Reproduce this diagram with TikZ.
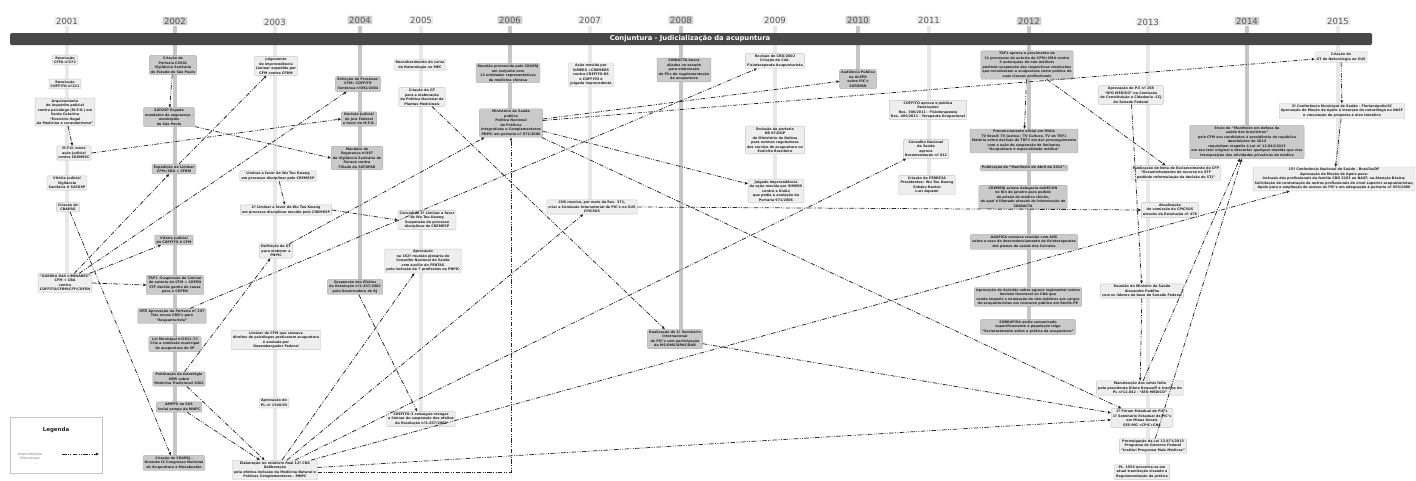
\documentclass[tikz,border=0pt]{standalone}
\usepackage{fontspec}
\setmainfont{DejaVu Sans}
\usetikzlibrary{arrows.meta}

\definecolor{boxlt}{HTML}{EEEEEE}
\definecolor{boxdk}{HTML}{CACACA}
\definecolor{edgelt}{HTML}{C4C4C4}
\definecolor{edgedk}{HTML}{A9A9A9}
\definecolor{barlt}{HTML}{E8E8E8}
\definecolor{bardk}{HTML}{C6C6C6}
\definecolor{yrlt}{HTML}{EDEDED}
\definecolor{yrdk}{HTML}{CFCFCF}
\definecolor{hdr}{HTML}{484848}
\definecolor{txt}{HTML}{262626}

\newcommand\evfont{\fontsize{3.35}{4.5}\selectfont\bfseries}
\newcommand\yrfont{\fontsize{8.5}{10}\selectfont}

\begin{document}
\begin{tikzpicture}[x=1pt,y=-1pt,>={Triangle[length=3pt,width=2.6pt]}]
\tikzset{
evlt/.style = {draw=edgelt, fill=boxlt, rounded corners=1pt,
               align=center, font=\evfont, text=txt,
               inner xsep=1.6pt, inner ysep=1.3pt, line width=0.4pt},
evdk/.style = {evlt, draw=edgedk, fill=boxdk},
yearlt/.style = {fill=yrlt, rounded corners=1pt, font=\yrfont, text=black!65,
                 inner xsep=1.5pt, inner ysep=1pt},
yeardk/.style = {yearlt, fill=yrdk},
ybarlt/.style = {draw=barlt, line width=4.5pt},
ybardk/.style = {draw=bardk, line width=4.5pt},
rel/.style = {->, draw=black!85, line width=0.75pt,
              dash pattern=on 4.5pt off 1.5pt on 0.8pt off 1.5pt on 0.8pt off 1.5pt}
}

\useasboundingbox (0,0) rectangle (1416,480);
\clip (0,0) rectangle (1416,480);
\fill[white] (0,0) rectangle (1416,480);

% time lines
\draw[ybarlt] (67,26) -- (67,275);
\draw[ybardk] (175,26) -- (175,458);
\draw[ybarlt] (275,26) -- (275,462);
\draw[ybardk] (360,26) -- (360,282);
\draw[ybarlt] (421,26) -- (421,412);
\draw[ybardk] (510,26) -- (510,110);
\draw[ybarlt] (590,26) -- (590,200);
\draw[ybardk] (681,26) -- (681,330);
\draw[ybarlt] (775,26) -- (775,180);
\draw[ybardk] (858,26) -- (858,70);
\draw[ybarlt] (929,26) -- (929,176);
\draw[ybardk] (1029,26) -- (1029,320);
\draw[ybarlt] (1148,26) -- (1148,470);
\draw[ybardk] (1247,26) -- (1247,126);
\draw[ybarlt] (1338,26) -- (1338,166);

% years
\node[yearlt] (Y01) at (67,21)   {2001};
\node[yeardk] (Y02) at (175,21)  {2002};
\node[yearlt] (Y03) at (275,22)  {2003};
\node[yeardk] (Y04) at (360,20)  {2004};
\node[yearlt] (Y05) at (421,20)  {2005};
\node[yeardk] (Y06) at (510,20)  {2006};
\node[yearlt] (Y07) at (590,20)  {2007};
\node[yeardk] (Y08) at (681,20)  {2008};
\node[yearlt] (Y09) at (775,20)  {2009};
\node[yeardk] (Y10) at (858,20)  {2010};
\node[yearlt] (Y11) at (929,20)  {2011};
\node[yeardk] (Y12) at (1029,21) {2012};
\node[yearlt] (Y13) at (1148,22) {2013};
\node[yeardk] (Y14) at (1247,21) {2014};
\node[yearlt] (Y15) at (1338,21) {2015};

% header
\node[fill=hdr, rounded corners=1.5pt, minimum width=1362pt, minimum height=12pt, inner sep=0pt] (bar) at (691,39) {};
\node[text=white, font=\fontsize{6.8}{8}\selectfont\bfseries] (title) at (690,39) {Conjuntura - Judicialização da acupuntura};

% 2001
\node[evlt] (A1) at (65,60)  {Resolução\\CFFA nº272};
\node[evlt] (A2) at (65,84)  {Resolução\\COFFITO nº221};
\node[evlt] (A3) at (65,112) {Arquivamento\\do inquérito policial\\contra psicólogo (M.F.O.) em\\Santa Catarina\\“Exercício Ilegal\\da Medicina e curandeirismo”};
\node[evlt] (A4) at (74,153) {M.F.O. move\\ação judicial\\contra CREMESC};
\node[evlt] (A5) at (67,183) {Vitória Judicial\\Vigilância\\Sanitária X SATOSP};
\node[evlt] (A6) at (68,207) {Criação do\\CBAERG};
\node[evlt] (A7) at (65,283) {“GUERRA DAS LIMINARES”\\CFM + CBA\\contra\\COFFITO/CFBM/CFF/COFEN};

% 2002
\node[evdk] (B1)  at (173,65)  {Criação da\\Portaria CVS01\\Vigilância Sanitária\\do Estado de São Paulo};
\node[evdk] (B2)  at (169,117) {SATOSP Expede\\mandatos de segurança -\\municípios\\de São Paulo};
\node[evdk] (B3)  at (174,169) {Expedição de Liminar\\CFM+CBA > CFBM};
\node[evdk] (B4)  at (174,240) {Vitória Judicial\\do COFFITO X CFM};
\node[evdk] (B5)  at (175,285) {TRF1 -Suspensão de Liminar\\de autoria do CFM > COFEN\\STF decide ganho de causa\\para o COFEN};
\node[evdk] (B6)  at (172,316) {MTE Aprovação da Portaria nº 397\\Trás novos CBO's para\\“Acupunturista”};
\node[evdk] (B7)  at (175,344) {Lei Municipal nº2611-72\\Cria a comissão municipal\\de acupuntura de SP};
\node[evdk] (B8)  at (179,379) {Publicação da estratégia\\OMS sobre\\Medicina Tradicional 2002};
\node[evdk] (B9)  at (179,407) {AMPPS no SUS\\Inclui campo da MNPC};
\node[evdk] (B10) at (174,463) {Criação do CRAERJ -\\Durante IX Congresso Nacional\\de Acupuntura e Moxabustão};

% 2003
\node[evlt] (C1) at (276,66)  {Julgamento\\de improcedência\\Liminar expedida por\\CFM contra CFBM};
\node[evlt] (C2) at (278,176) {Liminar a favor de Wu Tou Kwang\\em processo disciplinar pelo CREMESP};
\node[evlt] (C3) at (286,210) {2º Liminar a favor de Wu Tou Kwang\\em processo disciplinar movido pelo CREMESP};
\node[evlt] (C4) at (276,251) {Definição de GT\\para elaborar a\\PNPIC};
\node[evlt] (C5) at (276,340) {Liminar do CFM que cessava\\direitos de psicólogos praticarem acupuntura\\é anulada por\\Desembargador Federal};
\node[evlt] (C6) at (274,403) {Aprovação do\\PL nº 1549/03};
\node[evlt] (C7) at (275,470) {Elaboração no relatório final 12ª CNS\\Deliberação\\pela efetiva inclusão da Medicina Natural e\\Práticas Complementares - MNPC};

% 2004
\node[evdk] (D1) at (358,84)  {Extinção do Processo:\\CFM>> COFFITO\\Sentença nº092/2004};
\node[evdk] (D2) at (359,119) {Decisão Judicial\\do Juiz Federal\\a favor do M.F.O.};
\node[evdk] (D3) at (357,158) {Mandato de\\Segurança nº487\\da Vigilância Sanitária do\\Paraná contra\\Filiado da SATOPAR};
\node[evdk] (D4) at (355,287) {Suspensão dos Efeitos\\da Resolução nº1.837/2002\\pela Governadora do RJ};

% 2005
\node[evlt] (E1) at (420,65)  {Reconhecimento do curso\\de Naturologia no MEC};
\node[evlt] (E2) at (422,97)  {Criação do GT\\para a elaboração\\da Política Nacional de\\Plantas Medicinais};
\node[evlt] (E3) at (427,220) {Concedida 3ª Liminar a favor\\de Wu Tou Kwang\\Suspensão do processo\\disciplinar do CREMESP};
\node[evlt] (E4) at (423,261) {Aprovação\\na 182ª reunião plenária do\\Conselho Nacional de Saúde\\com auxílio do FENTAS\\pela inclusão de 7 profissões na PNPIC};
\node[evlt] (E5) at (421,419) {CREFITO-3 consegue revogar\\a liminar de suspensão dos efeitos\\da Resolução nº1.837/2002};

% 2006
\node[evdk] (F1) at (508,73)  {Reunião promovida pelo CRAERJ\\em conjunto com\\13 entidades representativas\\da medicina chinesa};
\node[evdk] (F2) at (511,123) {Ministério da Saúde\\publica\\Política Nacional\\de Práticas\\Integrativas e Complementares\\PNPIC em portaria nº 971/2006};

% 2007
\node[evlt] (G1) at (591,75)  {Ação movida por\\SIMERS +CREMERS\\contra CREFITO-RS\\e COFFITO é\\julgada improcedente};
\node[evlt] (G2) at (592,207) {CNS resolve, por meio da Res. 371,\\criar a Comissão Intersetorial de PIC's no SUS\\CPICSUS};

% 2008
\node[evdk] (H1) at (684,70)  {SINDACTA busca\\aliados no senado\\para elaboração\\de PL's de regulamentação\\da acupuntura};
\node[evdk] (H2) at (675,339) {Realização do 1º Seminário\\Internacional\\de PIC's com participação\\da MS/OMS/OPAS/DAB};

% 2009
\node[evlt] (I1) at (775,61)  {Revisão do CBO/2002\\Criação do Cód.\\Fisioterapeuta Acupunturista};
\node[evlt] (I2) at (775,140) {Emissão da portaria\\NR 07/DGP\\do Ministério da Defesa\\para normas reguladoras\\dos serviço de acupuntura no\\Exército Brasileiro};
\node[evlt] (I3) at (776,191) {Julgado improcedência\\da ação movida por SIMERS\\contra a União\\que pedia a anulação da\\Portaria 971/2006};

% 2010
\node[evdk] (J1) at (858,79) {Audiência Pública\\na ALEPR\\sobre PIC's\\SATOPAR};

% 2011
\node[evlt] (K1) at (928,110) {COFFITO aprova e publica\\Resoluções\\Res. 380/2011 - Fisioterapeuta\\Res. 405/2011 - Terapeuta Ocupacional};
\node[evlt] (K2) at (926,149) {Conselho Nacional\\de Saúde\\aprova\\Recomendação nº 012};
\node[evlt] (K3) at (927,185) {Criação da FEBRESA\\Presidentes: Wu Tou Kwang\\Sohaku Bastos\\Luci Aquemi};

% 2012
\node[evdk] (L1) at (1027,65)  {TRF1 aprova o provimento de\\11 processos de autoria do CFM+CMA contra\\5 autarquias de não-médicos\\pedindo suspensão das respectivas resoluções\\que reconhecem a acupuntura como prática de\\suas classes profissionais};
\node[evdk] (L2) at (1024,141) {Pronunciamento oficial em Mídia\\TV Brasil/ TV Justiça / TV Cultura, TV do TRF1\\Matéria sobre decisão do TRF1 em dar prosseguimento\\com a ação de suspensão de liminares\\“Acupuntura é especialidade médica”};
\node[evdk] (L3) at (1024,168) {Publicação do “Manifesto de Abril de 2012”.};
\node[evdk] (L4) at (1023,197) {CREMERJ aciona delegacia daDECON\\no Rio de Janeiro para pedido\\de prisão de médico chinês,\\do qual é liberado através da intervenção do\\SINDACTA};
\node[evdk] (L5) at (1024,242) {AGAFISA convoca reunião com ANS\\sobre o caso do descredenciamento de fisioterapeutas\\dos planos de saúde dos Correios};
\node[evdk] (L6) at (1028,297) {Aprovação de Acórdão sobre agravo regimental contra\\decisão favorável ao CNA que\\venda impedir a nomeação de não-médicos aos cargos\\de acupunturistas em concurso público em Recife-PE};
\node[evdk] (L7) at (1028,327) {SOBRAFISA emite comunicado\\especificamente à população leiga\\“Esclarecimento sobre a prática da acupuntura”};

% 2013
\node[evlt] (M1) at (1131,95)  {Aprovação do P.S nº 268\\“ATO MÉDICO” na Comissão\\de Constituição e Cidadania -CCJ\\do Senado Federal};
\node[evlt] (M2) at (1176,173) {Publicação de Nota de Esclarecimento do CFP\\“Encaminhamento de recurso no STF\\pedindo reformulação da decisão do STJ”};
\node[evlt] (M3) at (1170,210) {Atualização\\do comissão da CPICSUS\\através da Resolução nº 478};
\node[evlt] (M4) at (1142,291) {Reunião do Ministro da Saúde\\Alexandre Padilha\\com os líderes de base do Senado Federal};
\node[evlt] (M5) at (1140,388) {Manutenção dos vetos feito\\pela presidenta Dilma Rousseff à trechos do\\PL nº12.842 - “ATO MÉDICO”};
\node[evlt] (M6) at (1142,418) {1º Fórum Estadual de PIC's\\1º Seminário Estadual de PIC's\\em Minas Gerais\\SES-MG +CPIC+CNS};
\node[evlt] (M7) at (1153,446) {Promulgação da Lei 12.871/2013\\Programa do Governo Federal\\“Institui Programa Mais Médicos”};
\node[evlt, anchor=south] (M8) at (1142,479.5) {PL. 1559 encontra-se em\\atual tramitação visando a\\Regulamentação da prática};

% 2014
\node[evdk] (N1) at (1247,142) {Envio do “Manifesto em defesa da\\saúde dos brasileiros”\\pelo CFM aos candidatos à presidência da república\\daseleições de 2014\\requisitam respeito à Lei nº 12.842/2013\\em seu teor original e descartar qualquer medida que visa\\transposição das atividades privativas do médico};

% 2015
\node[evlt] (O1) at (1341,57)  {Criação do\\GT de Naturologia no SUS};
\node[evlt] (O2) at (1342,111) {3ª Conferência Municipal de Saúde - Florianópolis/SC\\Aprovação de Moção de Apoio à inserção do naturólogo no NASF\\e vinculação de proposta à eixo temático};
\node[evlt] (O3) at (1334,179) {15ª Conferência Nacional de Saúde - Brasília/DF\\Aprovação de Moção de Apoio para:\\Inclusão dos profissionais da família CBO 3263 ao NASF, na Atenção Básica;\\Solicitação de contratação de outros profissionais de nível superior acupunturistas;\\Apoio para a ampliação do acesso às PIC's em adequação à portaria nº 853/2006};

% legend
\draw[draw=edgelt, fill=white] (10,417) rectangle (102,473);
\node[font=\fontsize{5.5}{6}\selectfont\bfseries, text=txt] (leg) at (56,430) {Legenda};
\node[align=center, font=\fontsize{3.4}{4.2}\selectfont, text=black!55] (legtxt) at (30,456) {Inter-relações\\Discursivas};
\coordinate (legA) at (62,454);
\coordinate (legB) at (99,454);
\draw[rel] (legA) -- (legB);

% inter-relations
\draw[rel] (B1) -- (B2);
\draw[rel] (A3) -- (A4);
\draw[rel] (A4.east) -- (D2.west);
\draw[rel] (B2.south east) -- (D3.west);
\draw[rel] (B3) -- (C1);
\draw[rel] (A7) -- (B3);
\draw[rel] (A7) -- (D1);
\draw[rel] (A7) -- (B4);
\draw[rel] (A6) -- (B10);
\draw[rel] (A7.east) -- (B5.west);
\draw[rel] (C2) -- (C3);
\draw[rel] (C3.east) -- (E3.west);
\draw[rel] (E2) -- (H2);
\draw[rel] (D4) -- (E5);
\draw[rel] (B8) -- (C4);
\draw[rel] (B6) -- (I1);
\draw[rel] (C4) -- (F2);
\draw[rel] (B8) -- (C7);
\draw[rel] (B9) -- (C7);
\draw[rel] (C7) -- (E4);
\draw[rel] (C7) -- (G2);
\draw[rel] (C7) -- (K2);
\draw[rel] (C7) -- (O3);
\draw[rel] (C7) -- (M6);
\draw[rel] ([yshift=-2pt]C7.east) -| (F2.south);
\draw[rel] (F2) -- (J1);
\draw[rel] (F2) -- (O1);
\draw[rel] (F2) -- (I3);
\draw[rel] (F2) -- (M6);
\draw[rel] (H2) -- (M6);
\draw[rel] (G2.east) -- (M3.west);
\draw[rel] (L1) -- (L2);
\draw[rel] (L1) -- (M2);
\draw[rel] (M1) -- (M4);
\draw[rel] (M4) -- (M5);
\draw[rel] (M5) -- (N1);
\draw[rel] (M7) -- (N1);
\draw[rel] (O1) -- (O2);
\draw[rel] (O2) -- (O3);
\end{tikzpicture}
\end{document}
